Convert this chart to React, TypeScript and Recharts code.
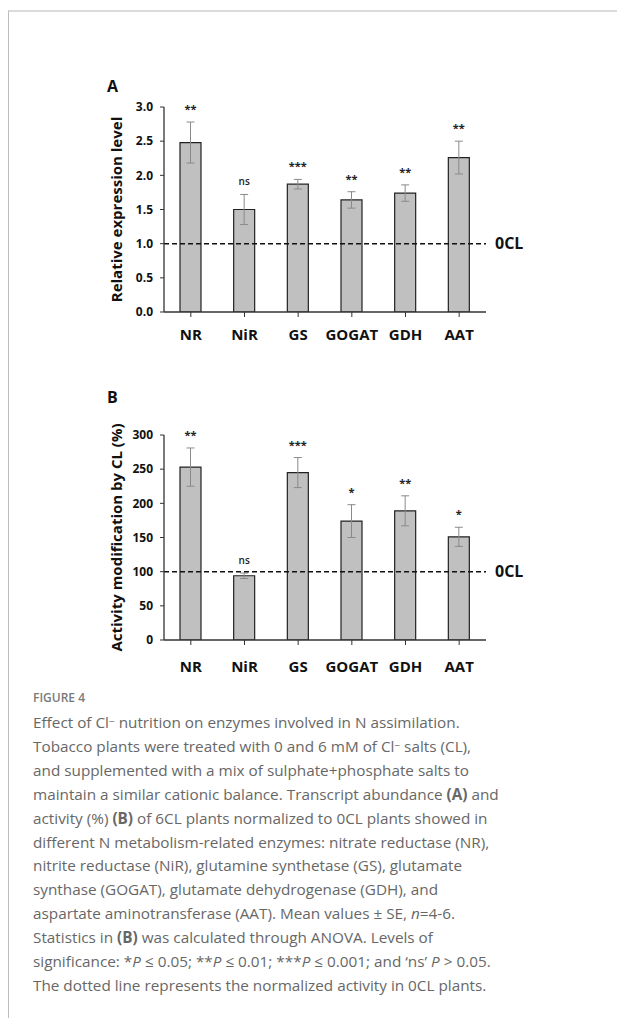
import React from 'react';
import { ComposedChart, Bar, XAxis, YAxis, ErrorBar, LabelList, ReferenceLine } from 'recharts';

const categories = ['NR', 'NiR', 'GS', 'GOGAT', 'GDH', 'AAT'];
const exprMean = [2.48, 1.5, 1.87, 1.64, 1.74, 2.26];
const exprErr = [0.3, 0.22, 0.07, 0.12, 0.12, 0.24];
const exprSig = ['**', 'ns', '***', '**', '**', '**'];
const actMean = [253, 94, 245, 174, 189, 151];
const actErr = [28, 4, 22, 24, 22, 14];
const actSig = ['**', 'ns', '***', '*', '**', '*'];
const exprTicks = [0, 0.5, 1, 1.5, 2, 2.5, 3];
const actTicks = [0, 50, 100, 150, 200, 250, 300];

const exprData = categories.map((name, i) => ({ name, value: exprMean[i], err: exprErr[i], sig: exprSig[i] }));
const actData = categories.map((name, i) => ({ name, value: actMean[i], err: actErr[i], sig: actSig[i] }));

const FONT = '"Open Sans", "DejaVu Sans", sans-serif';

const makeSigLabel = (data: any[]) => (props: any) => {
  const { x, y, width, height, index, value } = props;
  const d = data[index];
  if (!d || x == null) return null;
  const ppu = height / d.value;
  const errTop = y - d.err * ppu;
  const isNs = value === 'ns';
  return (
    <text
      x={x + width / 2}
      y={errTop - 9}
      textAnchor="middle"
      fontSize={isNs ? 10 : 11}
      fontWeight={isNs ? 600 : 700}
      fill="#222"
      fontFamily={FONT}
    >
      {value}
    </text>
  );
};

interface PanelProps {
  data: any[];
  ticks: number[];
  domain: [number, number];
  refY: number;
  title: string;
  fmt: (v: number) => string;
  top: number;
  height: number;
  marginTop: number;
  marginBottom: number;
  tickMargin: number;
}

const Panel = (p: PanelProps) => (
  <div style={{ position: 'absolute', left: 0, top: p.top }}>
    <ComposedChart
      width={617}
      height={p.height}
      data={p.data}
      margin={{ top: p.marginTop, right: 131, bottom: p.marginBottom, left: 104 }}
    >
      <XAxis
        dataKey="name"
        height={30}
        tickSize={5}
        tickMargin={p.tickMargin}
        axisLine={{ stroke: '#333', strokeWidth: 1.3 }}
        tickLine={{ stroke: '#333', strokeWidth: 1 }}
        tick={{ fill: '#111', fontSize: 15, fontWeight: 700, fontFamily: FONT }}
        interval={0}
      />
      <YAxis
        width={60}
        domain={p.domain}
        ticks={p.ticks}
        tickFormatter={p.fmt}
        tickSize={4}
        tickMargin={7}
        interval={0}
        allowDataOverflow
        axisLine={{ stroke: '#333', strokeWidth: 1.3 }}
        tickLine={{ stroke: '#333', strokeWidth: 1 }}
        tick={{ fill: '#111', fontSize: 12, fontWeight: 700, fontFamily: FONT }}
        label={{
          value: p.title,
          angle: -90,
          position: 'insideLeft',
          offset: 13,
          style: { textAnchor: 'middle', fontWeight: 700, fontSize: 15, fill: '#111', fontFamily: FONT },
        }}
      />
      <Bar dataKey="value" fill="#c0c0c0" stroke="#222" strokeWidth={1.2} barSize={21} isAnimationActive={false}>
        <ErrorBar dataKey="err" width={4} stroke="#8a8a8a" strokeWidth={1} direction="y" />
        <LabelList dataKey="sig" content={makeSigLabel(p.data)} />
      </Bar>
      <ReferenceLine
        y={p.refY}
        stroke="#111"
        strokeWidth={1.5}
        strokeDasharray="5 3"
        ifOverflow="extendDomain"
        label={{ value: '0CL', position: 'right', offset: 9, fill: '#111', fontWeight: 700, fontSize: 16, fontFamily: FONT }}
      />
    </ComposedChart>
  </div>
);

const lineStyle: React.CSSProperties = {
  position: 'absolute',
  left: 33,
  whiteSpace: 'nowrap',
  fontSize: 15.3,
  lineHeight: '24px',
  color: '#676767',
  fontFamily: FONT,
  fontWeight: 400,
};

const sup = <sup style={{ fontSize: '0.65em', verticalAlign: 'top', position: 'relative', top: -1 }}>−</sup>;

const captionLines: React.ReactNode[] = [
  <>Effect of Cl{sup} nutrition on enzymes involved in N assimilation.</>,
  <>Tobacco plants were treated with 0 and 6 mM of Cl{sup} salts (CL),</>,
  <>and supplemented with a mix of sulphate+phosphate salts to</>,
  <>maintain a similar cationic balance. Transcript abundance <b>(A)</b> and</>,
  <>activity (%) <b>(B)</b> of 6CL plants normalized to 0CL plants showed in</>,
  <>different N metabolism-related enzymes: nitrate reductase (NR),</>,
  <>nitrite reductase (NiR), glutamine synthetase (GS), glutamate</>,
  <>synthase (GOGAT), glutamate dehydrogenase (GDH), and</>,
  <>aspartate aminotransferase (AAT). Mean values ± SE, <i>n</i>=4-6.</>,
  <>Statistics in <b>(B)</b> was calculated through ANOVA. Levels of</>,
  <>significance: *<i>P</i> ≤ 0.05; **<i>P</i> ≤ 0.01; ***<i>P</i> ≤ 0.001; and ‘ns’ <i>P</i> &gt; 0.05.</>,
  <>The dotted line represents the normalized activity in 0CL plants.</>,
];

export default function App() {
  return (
    <div style={{ position: 'absolute', left: 0, top: 0, width: 617, height: 1018, background: '#fff', fontFamily: FONT, overflow: 'hidden' }}>
      <div style={{ position: 'absolute', left: 8, top: 10, width: 620, height: 1020, borderTop: '2px solid #dadada', borderLeft: '1px solid #bdbdbd' }} />
      <Panel
        data={exprData}
        ticks={exprTicks}
        domain={[0, 3]}
        refY={1}
        title="Relative expression level"
        fmt={(v) => v.toFixed(1)}
        top={0}
        height={360}
        marginTop={107}
        marginBottom={18}
        tickMargin={12}
      />
      <Panel
        data={actData}
        ticks={actTicks}
        domain={[0, 300]}
        refY={100}
        title="Activity modification by CL (%)"
        fmt={(v) => String(v)}
        top={340}
        height={340}
        marginTop={95}
        marginBottom={10}
        tickMargin={16}
      />
      <div style={{ position: 'absolute', left: 107, top: 75, fontSize: 16, fontWeight: 700, color: '#111', lineHeight: '22px' }}>A</div>
      <div style={{ position: 'absolute', left: 107, top: 386, fontSize: 16, fontWeight: 700, color: '#111', lineHeight: '22px' }}>B</div>
      <div style={{ position: 'absolute', left: 33, top: 689, fontSize: 12, fontWeight: 600, color: '#7a7a7a', lineHeight: '18px', fontFamily: FONT }}>FIGURE 4</div>
      {captionLines.map((ln, i) => (
        <div key={i} style={{ ...lineStyle, top: 710 + i * 23.9 }}>{ln}</div>
      ))}
    </div>
  );
}
